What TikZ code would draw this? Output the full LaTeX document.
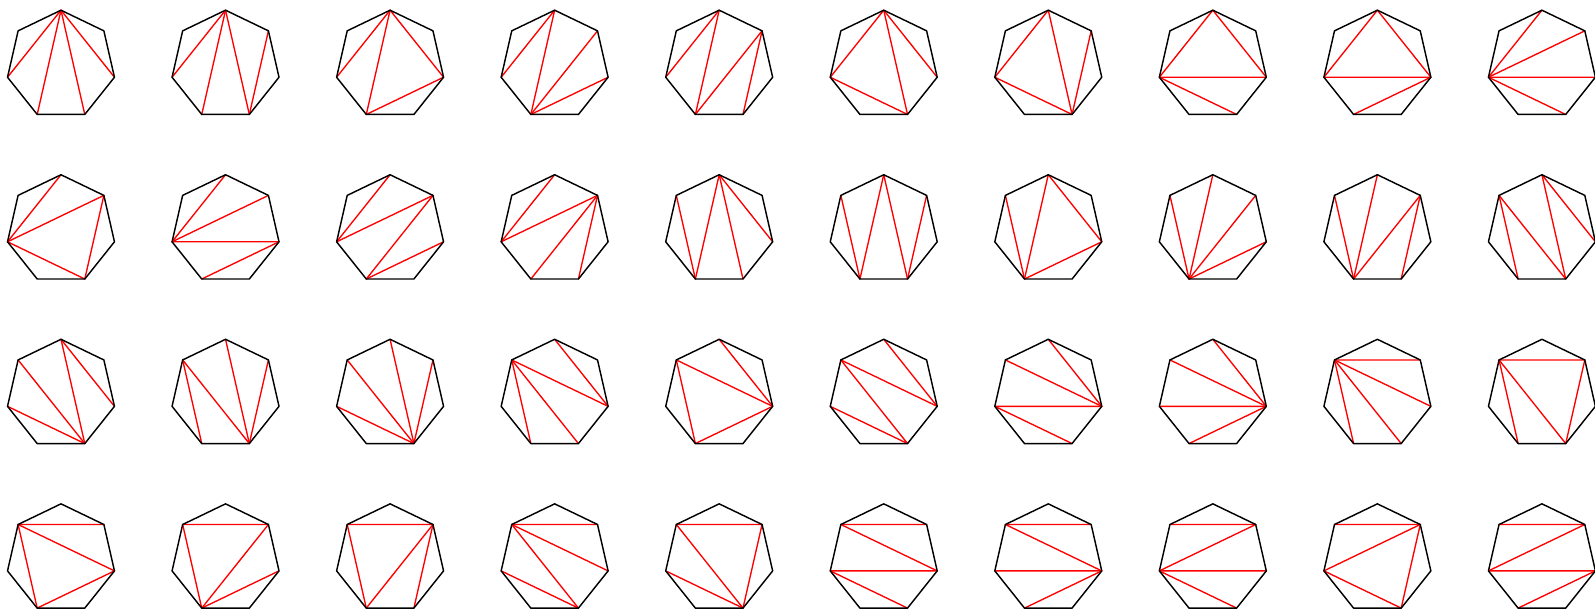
\documentclass[tikz,border=0pt]{standalone}
\usetikzlibrary{calc}

\begin{document}
\begin{tikzpicture}[
    x=1cm, y=1cm,
    side/.style={draw=black, line width=0.75pt, line join=round},
    diag/.style={draw=red, line width=0.7pt, line cap=round}
  ]
  \useasboundingbox (-1.112,1.186) rectangle (27.968,-9.994);
  % vertices 0..6 clockwise from the top one
  \foreach \tri [count=\n from 0] in {
      {0/2,0/3,0/4,0/5},{0/5,0/4,0/3,1/3},{0/5,0/4,0/2,2/4},{0/5,0/4,1/4,2/4},{0/5,0/4,1/4,1/3},
      {0/5,0/3,0/2,3/5},{0/5,0/3,1/3,3/5},{0/5,0/2,2/5,3/5},{0/5,0/2,2/5,2/4},{0/5,1/5,2/5,3/5},
      {0/5,1/5,1/3,3/5},{0/5,1/5,2/5,2/4},{0/5,1/5,1/4,2/4},{0/5,1/5,1/4,1/3},{4/6,0/4,0/3,0/2},
      {4/6,0/4,0/3,1/3},{4/6,0/4,0/2,2/4},{4/6,0/4,1/4,2/4},{4/6,0/4,1/4,1/3},{4/6,3/6,0/3,0/2},
      {3/6,0/3,0/2,3/5},{4/6,3/6,0/3,1/3},{3/6,0/3,1/3,3/5},{4/6,3/6,2/6,0/2},{4/6,2/6,0/2,2/4},
      {2/6,3/6,0/2,3/5},{2/6,0/2,2/5,3/5},{2/6,0/2,2/5,2/4},{1/6,2/6,3/6,4/6},{1/6,4/6,3/6,1/3},
      {1/6,2/6,4/6,2/4},{1/6,4/6,1/4,2/4},{1/6,4/6,1/4,1/3},{1/6,2/6,3/6,3/5},{1/6,3/6,1/3,3/5},
      {1/6,2/6,2/5,3/5},{1/6,2/6,2/5,2/4},{1/6,1/5,2/5,3/5},{1/6,1/5,1/3,3/5},{1/6,1/5,2/5,2/4}} {
    \pgfmathtruncatemacro{\col}{mod(\n,10)}
    \pgfmathtruncatemacro{\row}{div(\n,10)}
    \begin{scope}[shift={(3*\col,-3*\row)}]
      \foreach \v in {0,...,6}
        \coordinate (h\n-\v) at (90-\v*360/7:1);
    \end{scope}
    \foreach \a/\b in \tri
      \draw[diag] (h\n-\a) -- (h\n-\b);
    \draw[side] (h\n-0) -- (h\n-1) -- (h\n-2) -- (h\n-3) -- (h\n-4) -- (h\n-5) -- (h\n-6) -- cycle;
  }
\end{tikzpicture}
\end{document}
